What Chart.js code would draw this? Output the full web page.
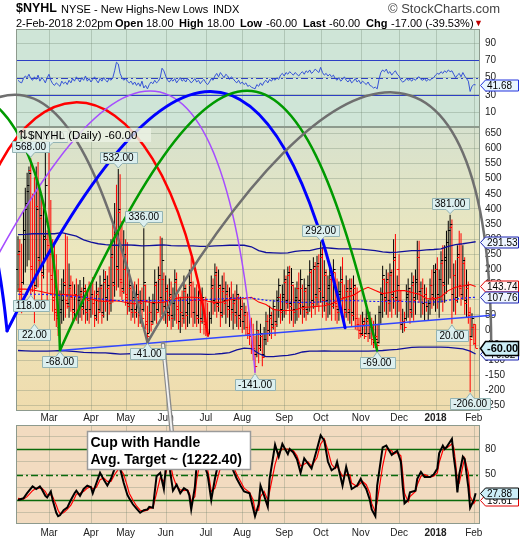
<!DOCTYPE html>
<html>
<head>
<meta charset="utf-8">
<title>$NYHL NYSE - New Highs-New Lows</title>
<script src="https://cdn.jsdelivr.net/npm/chart.js@4.4.1/dist/chart.umd.min.js"></script>
<style>
  html, body { margin: 0; padding: 0; background: #ffffff; }
  #page { position: relative; width: 520px; height: 540px; overflow: hidden;
          font-family: "Liberation Sans", Arial, Helvetica, sans-serif; color: #000; }
  #page canvas { position: absolute; left: 0; top: 0; }
  .hd { position: absolute; white-space: nowrap; line-height: 1; font-size: 11px; }
  .b { font-weight: bold; }
</style>
</head>
<body>
<div id="page">
  <canvas id="chart" width="520" height="540"></canvas>
  <span class="hd b" style="left:16px;top:2.3px;font-size:12.5px;">$NYHL</span>
  <span class="hd" style="left:61px;top:3.7px;">NYSE - New Highs-New Lows</span>
  <span class="hd" style="left:213px;top:3.7px;">INDX</span>
  <span class="hd" style="left:388px;top:2px;font-size:13px;color:#444;">&copy; StockCharts.com</span>
  <span class="hd" style="left:16px;top:17.7px;">2-Feb-2018 2:02pm</span>
  <span class="hd b" style="left:115px;top:17.7px;">Open</span>
  <span class="hd" id="hOpen" style="left:146px;top:17.7px;"></span>
  <span class="hd b" style="left:179px;top:17.7px;">High</span>
  <span class="hd" id="hHigh" style="left:207px;top:17.7px;"></span>
  <span class="hd b" style="left:240px;top:17.7px;">Low</span>
  <span class="hd" id="hLow" style="left:266px;top:17.7px;"></span>
  <span class="hd b" style="left:303px;top:17.7px;">Last</span>
  <span class="hd" id="hLast" style="left:329px;top:17.7px;"></span>
  <span class="hd b" style="left:366px;top:17.7px;">Chg</span>
  <span class="hd" id="hChg" style="left:391px;top:17.7px;"></span>
  <span class="hd" style="left:474px;top:19px;font-size:9px;color:#c00000;">&#9660;</span>
</div>
<script>
// Trading-day calendar: day 0 = 3-Feb-2017, day 251 = 2-Feb-2018
const monthStarts = [17, 40, 59, 81, 103, 123, 146, 166, 188, 209, 229, 250];
const monthLabels = ['Mar', 'Apr', 'May', 'Jun', 'Jul', 'Aug', 'Sep', 'Oct', 'Nov', 'Dec', '2018', 'Feb'];

// Daily $NYHL bars
const highs = [
  310,300,285,395,470,520,540,568,450,505,
  540,555,460,445,420,590,330,603,430,300,
  290,250,200,130,170,200,317,310,220,180,
  160,150,170,150,165,140,175,150,130,160,
  150,175,130,160,140,180,150,200,195,180,
  210,300,360,420,480,532,515,360,330,300,
  290,200,150,130,160,150,170,130,140,336,
  150,80,110,90,120,200,160,210,310,305,
  190,180,150,170,160,140,200,190,120,110,
  130,180,150,120,200,240,160,140,150,130,
  120,140,100,110,90,60,180,170,220,210,
  200,150,180,190,160,150,140,160,120,130,
  150,120,110,100,90,80,60,50,40,20,
  -20,30,0,20,-10,10,60,50,80,60,
  100,70,130,170,120,150,200,180,210,212,
  205,150,140,160,190,200,150,170,140,180,
  230,200,240,225,245,250,292,273,230,200,
  180,210,190,234,190,170,160,210,240,150,
  180,165,170,170,180,150,140,40,50,60,
  40,70,50,60,40,30,50,20,80,140,
  212,170,200,190,220,200,300,317,180,250,
  130,70,60,150,170,140,190,180,200,295,
  295,160,170,150,140,100,170,200,215,220,
  240,200,260,280,280,328,361,381,365,220,
  230,280,328,320,280,240,200,160,75,55,
  20,18
];
const lows = [
  125,80,55,150,190,210,230,118,125,22,
  140,140,200,90,170,230,60,190,120,60,
  30,10,-20,-68,20,30,40,70,40,60,
  30,40,30,20,40,30,50,20,30,20,
  40,50,10,30,20,60,20,40,60,30,
  50,60,90,110,130,140,110,100,120,80,
  50,60,30,40,20,40,10,20,10,60,
  0,-41,-10,-5,20,30,20,60,40,50,
  30,20,10,30,0,10,30,20,0,-10,
  10,20,0,10,20,40,10,20,10,20,
  -10,20,-15,-20,-20,-15,20,50,60,40,
  60,10,40,50,20,40,10,30,0,20,
  10,0,10,-10,0,-20,-30,-50,-80,-100,
  -141,-90,-110,-70,-120,-90,-50,-40,-20,-30,
  0,-20,10,40,20,30,40,50,70,20,
  30,10,20,30,40,50,20,40,30,50,
  60,40,70,50,80,60,90,40,60,30,
  40,50,30,70,30,20,30,60,50,20,
  40,30,20,10,30,0,-2,-30,-25,-20,
  -30,-15,-40,-30,-50,-60,-60,-69,-45,20,
  40,60,50,40,60,40,70,50,40,60,
  0,-10,-5,30,40,20,40,30,50,100,
  90,40,50,30,60,30,50,70,80,60,
  70,40,90,60,90,120,150,170,20,60,
  50,90,110,80,100,50,40,20,-206,-25,
  -50,-60
];
const opens = [
  200,250,130,160,300,400,460,530,210,320,
  150,410,240,370,190,310,300,350,260,180,
  110,70,50,10,60,100,160,100,90,140,
  110,70,120,60,100,120,80,130,70,100,
  70,110,90,50,120,70,140,60,160,110,
  140,100,240,160,320,210,390,170,140,200,
  120,90,140,70,100,70,110,60,90,70,
  150,20,-10,60,30,90,150,70,170,110,
  170,80,130,60,110,50,90,160,80,30,
  60,50,130,60,90,150,100,60,100,50,
  100,40,100,30,10,-10,40,140,100,180,
  90,140,60,130,100,120,80,110,70,90,
  60,110,50,70,30,50,10,-10,-20,-50,
  -60,-80,0,-50,-20,-80,-30,30,0,40,
  20,70,30,100,110,70,110,160,100,180,
  90,150,70,100,140,100,140,80,130,70,
  150,190,100,200,120,210,140,240,110,180,
  100,140,170,90,190,90,70,120,160,110,
  70,130,60,130,60,140,40,20,0,-10,
  20,-10,30,-10,10,-30,-40,-20,-40,60,
  120,170,110,160,100,180,120,230,110,200,
  100,20,30,40,110,130,70,150,110,160,
  240,130,140,90,120,80,90,150,120,190,
  200,120,170,220,160,230,290,330,340,120,
  180,110,240,150,120,220,100,140,50,-20,
  10,18
];
const closes = [
  260,120,90,330,420,480,520,200,160,140,
  400,230,380,180,300,480,280,250,170,100,
  60,40,20,70,120,150,90,80,150,110,
  60,120,60,110,130,70,140,60,100,70,
  120,90,40,130,60,150,50,170,100,150,
  90,250,150,330,200,400,160,130,250,110,
  80,150,60,110,60,120,50,100,40,160,
  30,-20,60,20,90,160,60,180,100,230,
  80,140,50,120,40,100,170,70,30,60,
  40,140,50,90,160,100,60,110,40,100,
  30,110,20,10,-10,40,150,90,190,80,
  150,50,140,90,130,70,110,60,100,50,
  120,40,80,30,60,10,-10,-20,-60,-80,
  -120,0,-60,-10,-90,-30,30,0,50,10,
  80,20,110,150,60,120,170,90,190,80,
  160,60,110,140,90,170,70,140,60,150,
  200,90,210,110,220,130,250,100,190,90,
  150,180,80,200,80,60,130,170,110,60,
  140,70,140,50,150,40,20,-10,-15,30,
  -20,40,-10,20,-30,-40,-30,-50,60,120,
  180,100,170,90,190,110,240,100,150,100,
  20,30,10,120,140,60,160,100,170,240,
  130,140,90,120,80,90,150,110,190,200,
  110,170,230,150,240,290,330,350,120,180,
  100,250,140,120,230,90,150,60,-30,40,
  -43,-60
];

// Price-panel overlays, sampled every four sessions
const bandDays = [0,4,8,12,16,20,24,28,32,36,40,44,48,52,56,60,64,68,72,76,80,84,88,92,96,100,104,108,112,116,120,124,128,132,136,140,144,148,152,156,160,164,168,172,176,180,184,188,192,196,200,204,208,212,216,220,224,228,232,236,240,244,248,251];
const upperBand = [315,316,318,318,318,318,322,316,310,298, 290,285,282,280,280,281,280,278,279,280,
  281,279,278,278,278,276,276,278,279,280, 280,280,275,262,256,255,254,255,260,262,
  262,268,272,270,268,268,268,267,265,262, 258,256,257,260,262,262,265,266,268,276, 282,285,289,291.53];
const midBand = [118,118,118,118,117,116,114,112,110,108, 106,103,100,98,97,97,97,97,97,97,
  97,97,97,98,99,100,101,102,103,104, 105,107,106,102,98,96,94,92,91,91,
  91,92,94,96,97,97,97,96,95,94, 94,95,95,94,93,92,91,92,94,98, 102,105,107,107.76];
const lowerBand = [-68,-69,-70,-70,-70,-69,-68,-70,-72,-74, -75,-76,-76,-78,-80,-79,-78,-78,-79,-80,
  -80,-80,-80,-80,-80,-80,-81,-80,-78,-75, -66,-60,-62,-78,-88,-88,-86,-84,-80,-73,
  -70,-70,-69,-70,-70,-70,-70,-70,-70,-69, -68,-66,-64,-61,-58,-57,-57,-57,-57,-58, -60,-63,-70,-79.52];
const maLine = [135,135,132,128,122,118,118,116,114,108, 102,96,94,97,95,90,86,96,92,90,
  92,100,106,108,108,106,95,91,92,100, 102,104,108,92,84,68,64,64,66,74,
  76,78,80,86,100,108,115,130,141,130, 120,124,130,130,124,118,104,102,110,130, 141,145,150,143.74];

// Upper indicator panel, one value per session
const topLine = [
  47,45,44,49,52,50,54,49,47,51,48,53,46,50,48,44,50,54,
  47,43,41,44,42,40,46,43,45,42,
  47,44,49,46,51,48,45,50,47,52,46,49,45,48,51,47,44,49,
  46,50,47,45,49,47,50,
  58,68,66,55,
  50,47,49,46,
  44,46,42,45,41,44,40,46,38,41,37,
  42,45,43,47,44,46,50,
  61,58,52,47,
  45,48,46,49,44,47,50,46,48,45,49,
  47,44,46,49,45,47,43,46,48,44,42,45,49,47,
  52,55,51,56,53,50,54,52,48,51,49,
  46,44,47,43,45,42,44,40,41,39,38,37,42,
  40,44,41,45,47,44,48,46,49,47,50,48,
  53,55,52,56,54,57,55,53,56,54,52,
  55,57,54,58,56,59,55,57,60,58,56,62,
  56,53,55,52,54,51,53,
  49,47,50,46,48,51,47,45,48,44,46,49,45,47,43,46,44,42,45,41,
  40,38,39,37,
  48,56,59,57,60,55,57,53,56,58,54,52,
  47,45,46,49,47,48,46,49,47,50,51,48,47,49,46,48,47,49,50,
  53,55,54,57,55,58,56,59,57,58,54,
  50,53,55,51,56,52,49,46,
  34,40,42,41.68
];

// Lower oscillator panel
const oscDays = [0,3,5,8,10,12,13,15,16,18, 19,21,22,23,25,27,29,31,32,34,
  36,38,40,41,43,45,47,49,51,53, 55,56,58,60,61,63,65,67,69,71,
  72,74,76,78,80,82,83,85,87,89, 91,93,94,95,97,98,100,102,104,105,
  106,108,111,114,116,118,120,122,124,127, 129,130,132,133,135,137,138,141,143,145,
  148,149,151,153,155,157,159,161,164,166, 168,170,172,174,175,178,180,182,183,186,
  188,189,191,193,194,196,197,200,202,205, 206,208,210,211,212,214,215,218,219,221,
  223,226,228,230,231,233,234,235,238,239, 240,241,242,244,245,247,248,250,251];
const oscLine = [20,22,28,36,33,36,33,25,23,30, 20,5,1,2,8,11,20,28,31,25,
  33,37,35,28,40,52,44,37,45,57, 59,57,40,26,22,15,10,5,8,9,
  12,11,48,52,33,80,60,31,38,28, 34,31,25,9,35,62,75,62,50,35,
  20,45,75,80,65,55,45,37,30,28, 10,1,15,37,25,12,45,85,71,86,
  74,80,76,68,52,69,63,57,80,96, 90,65,55,58,65,37,59,42,33,37,
  45,40,33,20,9,1,37,82,84,73, 75,78,65,37,16,20,29,31,45,53,
  47,47,50,57,75,84,80,82,92,71, 55,29,50,71,68,35,11,20,27.88];
const oscSignal = [22,21,24,31,34,34,34,30,26,26, 24,14,8,4,5,9,14,22,27,28,
  30,34,36,33,35,44,46,42,42,50, 56,57,50,36,28,20,13,8,7,8,
  10,11,28,46,42,60,68,48,36,32, 31,32,28,18,24,44,66,68,56,44,
  30,34,58,76,72,60,50,42,34,29, 20,8,8,24,30,20,30,62,76,80,
  80,78,78,72,60,62,65,60,70,86, 92,78,62,57,60,48,50,50,40,36,
  40,42,38,28,16,6,18,60,80,78, 74,76,72,52,28,18,24,30,38,48,
  50,47,48,52,64,78,82,81,86,82, 64,42,40,60,69,52,24,16,19.61];

// Axis tick values
const mainTicks = [-250,-200,-150,-100,-50,0,50,100,150,200,250,300,350,400,450,500,550,600,650];
const topTicks = [10,30,50,70,90];
const oscTicks = [5,20,35,50,65,80,95];
const oscLabelled = [20,50,80];

// Annotated extremes: [session, 'high' | 'low']
const markedBars = [[17,'high'],[7,'high'],[55,'high'],[69,'high'],[166,'high'],[237,'high'],
  [7,'low'],[9,'low'],[23,'low'],[71,'low'],[130,'low'],[197,'low'],[238,'low'],[248,'low']];

// Hand-drawn cycle arcs: cubic curves given as [session, value] anchors on the price scale
const cycleArcs = [
  { color: '#6f6f6f', width: 2.5, pts: [[-119.6,-41],[-14.0,1051],[25.8,1051],[71,-41]] },
  { color: '#ff0000', width: 2.5, pts: [[-34.6,-19],[-18.1,985],[77.9,1034],[104.2,-19]] },
  { color: '#a64dff', width: 1.5, pts: [[-42.8,-141],[50.5,1100],[113.5,1100],[130,-141]] },
  { color: '#0000ff', width: 3,   pts: [[-190.9,-3],[-103.1,1051],[-23.6,1051],[-6.0,-3]] },
  { color: '#0000ff', width: 3,   pts: [[-6.0,-3],[81.7,1051],[141.5,1051],[179.4,7]] },
  { color: '#009a00', width: 2.5, pts: [[-147,-69],[-64.7,1077],[17.6,1077],[23,-68]] },
  { color: '#009a00', width: 2.5, pts: [[23,-68],[108.1,1077],[153.6,1077],[197,-69]] },
  { color: '#6f6f6f', width: 2.5, pts: [[71,-41],[176.6,1071],[261.7,1071],[259.5,-102]] }
];
// Rising support line under the handle
const supportLine = [[23,-68],[261.7,49]];
const cupNote = { lines: ['Cup with Handle', 'Avg. Target ~ (1222.40)'], anchorDay: 79.5 };

// ---------------------------------------------------------------
const FONT = "'Liberation Sans', Arial, Helvetica, sans-serif";
const AREA = { top: 29, bottom: 524 };
const panels = {
  top:  { y0: 29,  y1: 127 },
  main: { y0: 127, y1: 411 },
  osc:  { y0: 425, y1: 524 }
};
const clipFor = p => ({ left: 0, right: 0, top: -(p.y0 - AREA.top), bottom: -(AREA.bottom - p.y1) });
const labelForDay = d => { const k = monthStarts.indexOf(d); return k < 0 ? '' : monthLabels[k]; };
const fixedTicks = vals => scale => { scale.ticks = vals.map(v => ({ value: v })); };
const barColor = i => (i === 0 || closes[i] >= closes[i - 1]) ? '#000000' : '#ff0000';
const fmt = v => v.toFixed(2);
const gridColor = 'rgba(105,125,105,0.30)';

function pts(days, vals) { return days.map((d, k) => ({ x: d, y: vals[k] })); }

function supportValueAt(day) {
  const [[d0, v0], [d1, v1]] = supportLine;
  return v0 + (day - d0) * (v1 - v0) / (d1 - d0);
}

function drawCallout(ctx, x, yTip, text, below) {
  ctx.font = '10px ' + FONT;
  const w = Math.ceil(ctx.measureText(text).width) + 6, h = 11;
  const bx = Math.round(x - w / 2) + 0.5;
  ctx.beginPath();
  let by;
  if (!below) {
    by = Math.round(yTip - 5 - h) + 0.5;
    ctx.moveTo(bx, by); ctx.lineTo(bx + w, by); ctx.lineTo(bx + w, by + h);
    ctx.lineTo(x + 4, by + h); ctx.lineTo(x, yTip); ctx.lineTo(x - 4, by + h);
    ctx.lineTo(bx, by + h); ctx.closePath();
  } else {
    by = Math.round(yTip + 5) + 0.5;
    ctx.moveTo(bx, by); ctx.lineTo(x - 4, by); ctx.lineTo(x, yTip); ctx.lineTo(x + 4, by);
    ctx.lineTo(bx + w, by); ctx.lineTo(bx + w, by + h); ctx.lineTo(bx, by + h); ctx.closePath();
  }
  ctx.fillStyle = '#dcefef'; ctx.fill();
  ctx.strokeStyle = '#93b3b3'; ctx.lineWidth = 1; ctx.stroke();
  ctx.fillStyle = '#000'; ctx.textAlign = 'center'; ctx.textBaseline = 'middle';
  ctx.fillText(text, x, by + h / 2 + 0.5);
}

function drawFlag(ctx, y, text, border, fill, bold) {
  const x0 = 480.5, xb = 485.5, xr = 518.5, h = bold ? 14 : 11;
  const yy = Math.round(y) + 0.5;
  ctx.beginPath();
  ctx.moveTo(x0, yy); ctx.lineTo(xb, yy - h / 2); ctx.lineTo(xr, yy - h / 2);
  ctx.lineTo(xr, yy + h / 2); ctx.lineTo(xb, yy + h / 2); ctx.closePath();
  ctx.fillStyle = fill; ctx.fill();
  ctx.strokeStyle = border; ctx.lineWidth = bold ? 1.5 : 1; ctx.stroke();
  ctx.fillStyle = '#000';
  ctx.font = (bold ? 'bold 11px ' : '10px ') + FONT;
  ctx.textAlign = 'left'; ctx.textBaseline = 'middle';
  ctx.fillText(text, 487, yy + 0.5);
}

function hLine(ctx, y, x0, x1, color, dash, width) {
  ctx.save();
  ctx.strokeStyle = color; ctx.lineWidth = width || 1; ctx.setLineDash(dash || []);
  const yy = Math.round(y) + 0.5;
  ctx.beginPath(); ctx.moveTo(x0, yy); ctx.lineTo(x1, yy); ctx.stroke();
  ctx.restore();
}

const panelPlugin = {
  id: 'panels',
  afterLayout(chart) {
    // the three value axes share one label column right of the plot
    ['yTop', 'yMain', 'yOsc'].forEach(id => {
      const s = chart.scales[id];
      s.right = chart.width;
      s.width = s.right - s.left;
    });
  },
  beforeDraw(chart) {
    const { ctx, chartArea: a } = chart;
    const w = a.right - a.left;
    ctx.save();
    ctx.fillStyle = '#ffffff'; ctx.fillRect(0, 0, chart.width, chart.height);
    ctx.fillStyle = '#cfe5d7';
    ctx.fillRect(a.left, panels.top.y0, w, panels.top.y1 - panels.top.y0);
    const g = ctx.createLinearGradient(0, panels.main.y0, 0, panels.main.y1);
    g.addColorStop(0, '#d6e1ce'); g.addColorStop(0.45, '#ede7bd'); g.addColorStop(1, '#efdcae');
    ctx.fillStyle = g;
    ctx.fillRect(a.left, panels.main.y0, w, panels.main.y1 - panels.main.y0);
    ctx.fillStyle = '#f2dbc0';
    ctx.fillRect(a.left, panels.osc.y0, w, panels.osc.y1 - panels.osc.y0);
    ctx.restore();
  },
  beforeDatasetsDraw(chart) {
    const { ctx, chartArea: a, scales } = chart;
    ctx.save();
    // month grid lines in every panel
    ctx.strokeStyle = gridColor; ctx.lineWidth = 1;
    monthStarts.forEach(d => {
      const x = Math.round(scales.x.getPixelForValue(d)) + 0.5;
      Object.values(panels).forEach(p => {
        ctx.beginPath(); ctx.moveTo(x, p.y0); ctx.lineTo(x, p.y1); ctx.stroke();
      });
    });
    // reference levels
    const blue = '#2d3fc4', green = '#0b6a0b';
    hLine(ctx, scales.yTop.getPixelForValue(70), a.left, a.right, blue);
    hLine(ctx, scales.yTop.getPixelForValue(30), a.left, a.right, blue);
    hLine(ctx, scales.yTop.getPixelForValue(50), a.left, a.right, blue, [7, 3, 2, 3]);
    hLine(ctx, scales.yOsc.getPixelForValue(80), a.left, a.right, green, [], 1.3);
    hLine(ctx, scales.yOsc.getPixelForValue(20), a.left, a.right, green, [], 1.3);
    hLine(ctx, scales.yOsc.getPixelForValue(50), a.left, a.right, green, [7, 3, 2, 3], 1.3);
    // panel frames
    ctx.strokeStyle = '#8d9a8d'; ctx.lineWidth = 1;
    Object.values(panels).forEach(p => {
      ctx.strokeRect(a.left + 0.5, p.y0 + 0.5, a.right - a.left - 1, p.y1 - p.y0 - 1);
    });
    ctx.restore();
  },
  afterDatasetDraw(chart, args) {
    if (args.index !== 0) return;
    const { ctx, chartArea: a, scales } = chart;
    const xs = scales.x, ys = scales.yMain;
    ctx.save();
    ctx.beginPath();
    ctx.rect(a.left, panels.main.y0, a.right - a.left, panels.main.y1 - panels.main.y0);
    ctx.clip();
    ctx.lineWidth = 1;
    for (let i = 0; i < closes.length; i++) {
      const x = xs.getPixelForValue(i);
      const yo = Math.round(ys.getPixelForValue(opens[i])) + 0.5;
      const yc = Math.round(ys.getPixelForValue(closes[i])) + 0.5;
      ctx.strokeStyle = barColor(i);
      ctx.beginPath();
      ctx.moveTo(x - 2.2, yo); ctx.lineTo(x, yo);
      ctx.moveTo(x, yc); ctx.lineTo(x + 2.2, yc);
      ctx.stroke();
    }
    ctx.restore();
  },
  afterDatasetsDraw(chart) {
    const { ctx, chartArea: a, scales } = chart;
    const xs = scales.x, ys = scales.yMain;
    const P = ([d, v]) => [xs.getPixelForValue(d), ys.getPixelForValue(v)];
    ctx.save();

    // second row of month labels between price and oscillator panels
    xs.ticks.forEach(t => {
      const lab = labelForDay(t.value);
      ctx.font = (lab === '2018' ? 'bold ' : '') + '10px ' + FONT;
      ctx.fillStyle = '#222'; ctx.textAlign = 'center'; ctx.textBaseline = 'middle';
      ctx.fillText(lab, xs.getPixelForValue(t.value), 418.5);
    });

    // support line
    const [s0, s1] = supportLine.map(P);
    ctx.strokeStyle = '#3146ff'; ctx.lineWidth = 1.5;
    ctx.beginPath(); ctx.moveTo(s0[0], s0[1]); ctx.lineTo(s1[0], s1[1]); ctx.stroke();

    // cycle arcs
    ctx.lineCap = 'round';
    cycleArcs.forEach(arc => {
      const [p0, p1, p2, p3] = arc.pts.map(P);
      ctx.strokeStyle = arc.color; ctx.lineWidth = arc.width;
      ctx.beginPath(); ctx.moveTo(p0[0], p0[1]);
      ctx.bezierCurveTo(p1[0], p1[1], p2[0], p2[1], p3[0], p3[1]);
      ctx.stroke();
    });

    // note pointer from the support line down to the note box
    const tip = P([cupNote.anchorDay, supportValueAt(cupNote.anchorDay)]);
    ctx.lineCap = 'butt';
    ctx.strokeStyle = '#8a8a8a'; ctx.lineWidth = 4.5;
    ctx.beginPath(); ctx.moveTo(tip[0], tip[1]); ctx.lineTo(172, 434); ctx.stroke();
    ctx.strokeStyle = '#f2f2f2'; ctx.lineWidth = 2;
    ctx.beginPath(); ctx.moveTo(tip[0], tip[1] + 2); ctx.lineTo(172, 434); ctx.stroke();

    // value callouts on the marked highs and lows
    markedBars.forEach(([i, kind]) => {
      const x = xs.getPixelForValue(i);
      if (kind === 'high') drawCallout(ctx, x, ys.getPixelForValue(highs[i]) - 1, fmt(highs[i]), false);
      else drawCallout(ctx, x, ys.getPixelForValue(lows[i]) + 1, fmt(lows[i]), true);
    });

    // panel legend
    ctx.fillStyle = 'rgba(236,242,228,0.82)';
    ctx.fillRect(a.left + 1, panels.main.y0 + 1, 134, 14);
    ctx.fillStyle = '#000'; ctx.font = '11.5px ' + FONT;
    ctx.textAlign = 'left'; ctx.textBaseline = 'alphabetic';
    ctx.fillText('\u21C5$NYHL (Daily) ' + fmt(closes[closes.length - 1]), 18, 138.5);
    ctx.restore();
  },
  afterDraw(chart) {
    const { ctx, scales } = chart;
    ctx.save();
    const last = arr => arr[arr.length - 1];
    const flags = [
      ['yTop',  last(topLine),   '#2233dd', '#e9f5ff', false],
      ['yMain', last(upperBand), '#1a22b0', '#eef5ff', false],
      ['yMain', last(maLine),    '#e00000', '#fff5f5', false],
      ['yMain', last(midBand),   '#1a22b0', '#eef5ff', false],
      ['yMain', last(lowerBand), '#1a22b0', '#eef5ff', false],
      ['yMain', last(closes),    '#000000', '#cdeef7', true],
      ['yOsc',  last(oscSignal), '#e00000', '#ffffff', false],
      ['yOsc',  last(oscLine),   '#000000', '#cdeef7', false]
    ];
    flags.forEach(([s, v, b, f, bold]) => drawFlag(ctx, scales[s].getPixelForValue(v), fmt(v), b, f, bold));

    // chart-pattern note box
    ctx.fillStyle = '#ffffff'; ctx.strokeStyle = '#9a9a9a'; ctx.lineWidth = 1.5;
    ctx.fillRect(87.5, 431.5, 163, 38); ctx.strokeRect(87.5, 431.5, 163, 38);
    ctx.fillStyle = '#000'; ctx.font = 'bold 14px ' + FONT;
    ctx.textAlign = 'left'; ctx.textBaseline = 'alphabetic';
    ctx.fillText(cupNote.lines[0], 90.5, 446.5);
    ctx.fillText(cupNote.lines[1], 90.5, 463.5);
    ctx.restore();
  }
};

Chart.defaults.font.family = FONT;

const lineSet = (data, axis, color, width, panel, extra) => Object.assign({
  type: 'line', data, yAxisID: axis, xAxisID: 'x', borderColor: color, borderWidth: width,
  pointRadius: 0, tension: 0, fill: false, clip: clipFor(panel), order: 2
}, extra || {});

const yAxis = (min, max, ticks, labelFn) => ({
  type: 'linear', position: 'right', min, max, offset: false,
  afterBuildTicks: fixedTicks(ticks),
  afterFit: s => { s.width = 0; },
  grid: { color: gridColor, drawTicks: false, lineWidth: 1, offset: false },
  border: { display: false },
  ticks: { padding: 5, color: '#222', font: { family: FONT, size: 10 }, callback: labelFn }
});

const chart = new Chart(document.getElementById('chart'), {
  type: 'line',
  data: {
    datasets: [
      {
        type: 'bar', xAxisID: 'x', yAxisID: 'yMain', order: 10,
        data: highs.map((h, i) => ({ x: i, y: [lows[i], h] })),
        backgroundColor: c => barColor(c.dataIndex),
        barThickness: 1, borderWidth: 0, inflateAmount: 0, grouped: false,
        clip: clipFor(panels.main)
      },
      lineSet(pts(bandDays, upperBand), 'yMain', '#10109a', 1.3, panels.main),
      lineSet(pts(bandDays, lowerBand), 'yMain', '#10109a', 1.3, panels.main),
      lineSet(pts(bandDays, midBand),   'yMain', '#1a1aff', 1.2, panels.main, { borderDash: [2, 2] }),
      lineSet(pts(bandDays, maLine),    'yMain', '#ff0000', 1.1, panels.main),
      lineSet(topLine.map((v, i) => ({ x: i, y: v })), 'yTop', '#3552d6', 1, panels.top),
      lineSet(pts(oscDays, oscSignal), 'yOsc', '#ff0000', 1.2, panels.osc, { order: 3 }),
      lineSet(pts(oscDays, oscLine),   'yOsc', '#000000', 2, panels.osc, { order: 1 })
    ]
  },
  options: {
    responsive: false, devicePixelRatio: 1, animation: false, events: [],
    layout: { padding: { left: 16, right: 40, top: AREA.top, bottom: 0 } },
    plugins: { legend: { display: false }, tooltip: { enabled: false }, title: { display: false } },
    scales: {
      x: {
        type: 'linear', min: -1.1, max: 253.4, offset: false,
        afterBuildTicks: fixedTicks(monthStarts),
        afterFit: s => { s.height = 540 - AREA.bottom; },
        grid: { display: false, drawTicks: false, offset: false },
        border: { display: false },
        ticks: {
          autoSkip: false, maxRotation: 0, padding: 3, color: '#222',
          font: c => ({ family: FONT, size: 10,
                        weight: (c.tick && labelForDay(c.tick.value) === '2018') ? 'bold' : 'normal' }),
          callback: v => labelForDay(v)
        }
      },
      yTop:  yAxis(-468.7, 106.6, topTicks, v => String(v)),
      yMain: yAxis(-641.8, 995.1, mainTicks, v => String(v)),
      yOsc:  yAxis(-8.2, 574.1, oscTicks, v => oscLabelled.includes(v) ? String(v) : '')
    }
  },
  plugins: [panelPlugin]
});

// header quote line
(function () {
  const n = closes.length - 1;
  const chg = closes[n] - closes[n - 1];
  document.getElementById('hOpen').textContent = fmt(opens[n]);
  document.getElementById('hHigh').textContent = fmt(highs[n]);
  document.getElementById('hLow').textContent = fmt(lows[n]);
  document.getElementById('hLast').textContent = fmt(closes[n]);
  document.getElementById('hChg').textContent =
    fmt(chg) + ' (' + fmt(100 * chg / Math.abs(closes[n - 1])) + '%)';
})();
</script>
</body>
</html>
